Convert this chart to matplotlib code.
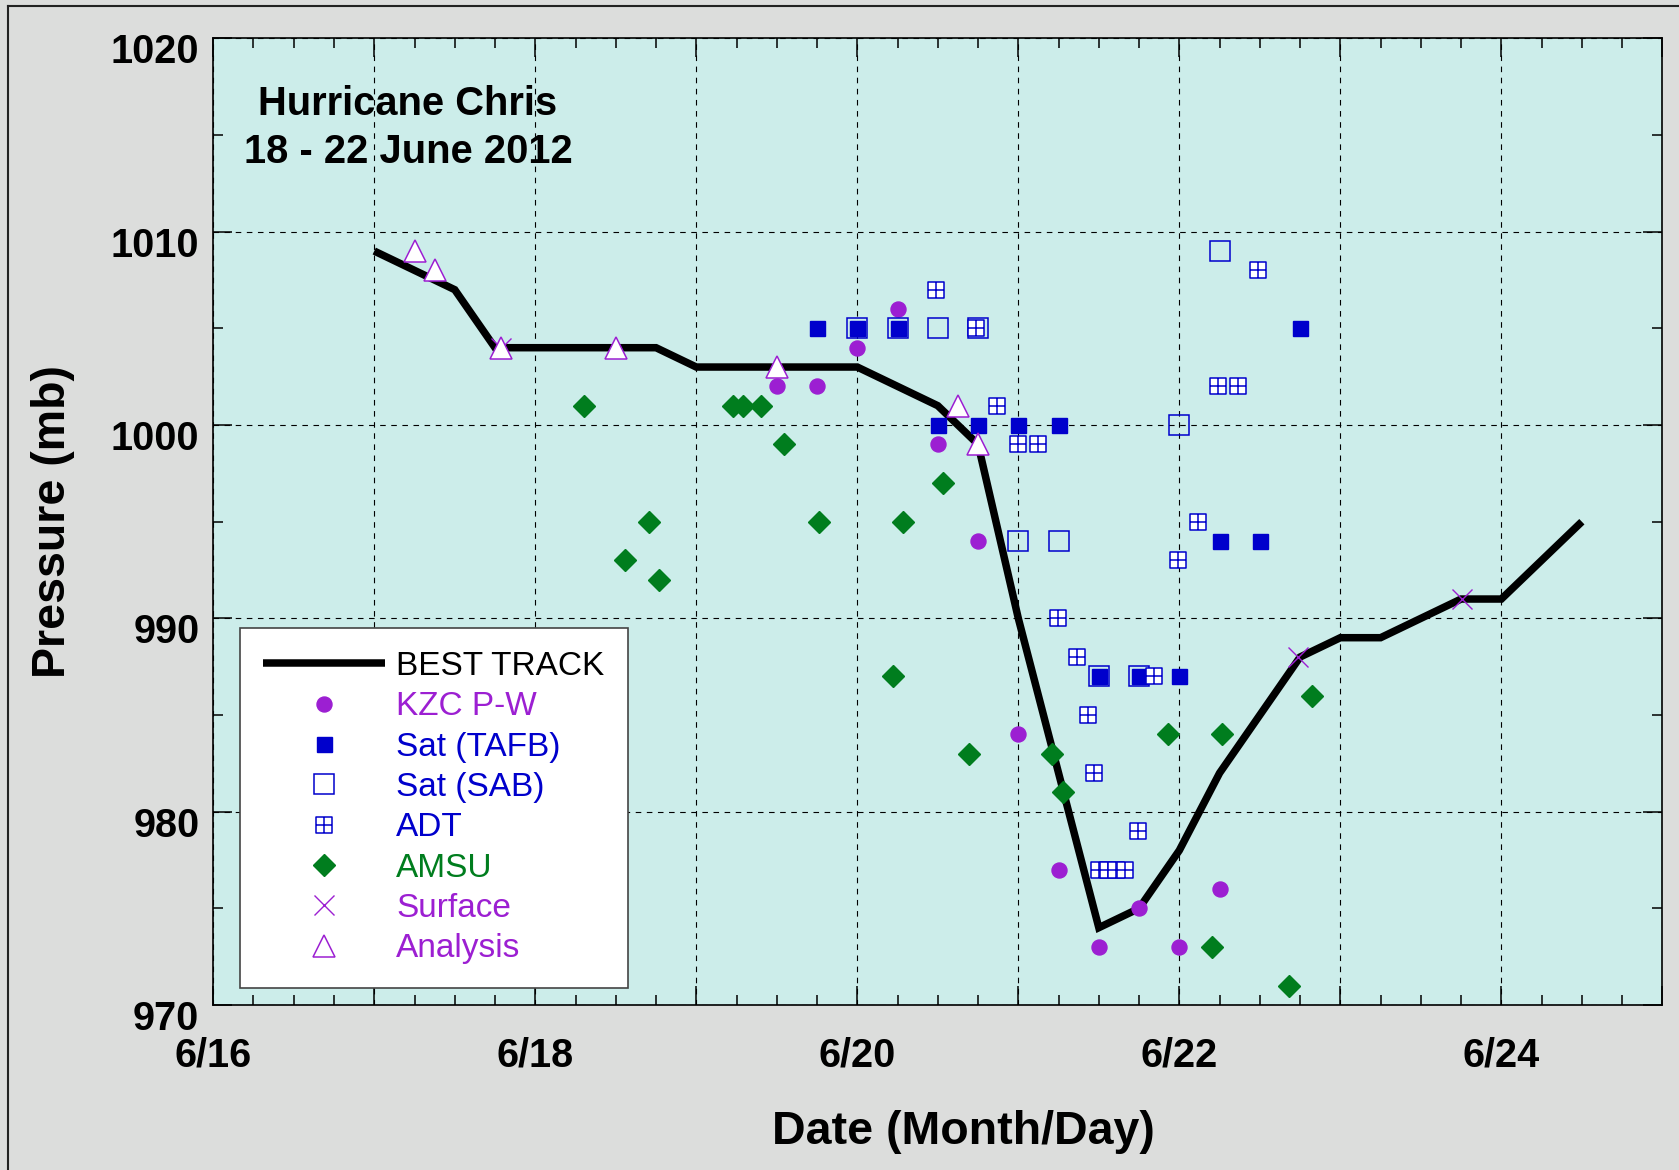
import numpy as np
import matplotlib.pyplot as plt
from matplotlib.path import Path
from matplotlib.lines import Line2D
from matplotlib.ticker import MultipleLocator, FuncFormatter
import matplotlib.transforms as mtransforms

plt.rcParams['font.family'] = ['Liberation Sans', 'DejaVu Sans']

# time in days of June 2012, pressure in mb
bt_day = [17.0, 17.25, 17.5, 17.75, 18.0, 18.25, 18.5, 18.75, 19.0, 19.25, 19.5,
          19.75, 20.0, 20.25, 20.5, 20.75, 21.0, 21.25, 21.5, 21.75, 22.0, 22.25,
          22.5, 22.75, 23.0, 23.25, 23.5, 23.75, 24.0, 24.25, 24.5]
bt_pres = [1009, 1008, 1007, 1004, 1004, 1004, 1004, 1004, 1003, 1003, 1003,
           1003, 1003, 1002, 1001, 999, 990, 982, 974, 975, 978, 982,
           985, 988, 989, 989, 990, 991, 991, 993, 995]

kzc_day = [19.5, 19.75, 20.0, 20.25, 20.5, 20.75, 21.0, 21.25, 21.5, 21.75, 22.0, 22.25]
kzc_pres = [1002, 1002, 1004, 1006, 999, 994, 984, 977, 973, 975, 973, 976]

tafb_day = [19.75, 20.0, 20.25, 20.5, 20.75, 21.0, 21.25, 21.5, 21.75, 22.0, 22.25, 22.5, 22.75]
tafb_pres = [1005, 1005, 1005, 1000, 1000, 1000, 1000, 987, 987, 987, 994, 994, 1005]

sab_day = [20.0, 20.25, 20.5, 20.75, 21.0, 21.25, 21.5, 21.75, 22.0, 22.25]
sab_pres = [1005, 1005, 1005, 1005, 994, 994, 987, 987, 1000, 1009]

adt_day = [20.49, 20.74, 20.866, 20.995, 21.12, 21.245, 21.364, 21.43, 21.473, 21.503,
           21.556, 21.609, 21.662, 21.746, 21.845, 21.994, 22.118, 22.24, 22.367, 22.49]
adt_pres = [1007, 1005, 1001, 999, 999, 990, 988, 985, 982, 977,
            977, 977, 977, 979, 987, 993, 995, 1002, 1002, 1008]

amsu_day = [18.30, 18.555, 18.707, 18.771, 19.227, 19.291, 19.401, 19.544, 19.763, 20.222,
            20.282, 20.532, 20.696, 21.21, 21.276, 21.932, 22.2, 22.265, 22.68, 22.822]
amsu_pres = [1001, 993, 995, 992, 1001, 1001, 1001, 999, 995, 987,
             995, 997, 983, 983, 981, 984, 973, 984, 971, 986]

sfc_day = [17.79, 22.74, 23.755]
sfc_pres = [1004, 988, 991]

ana_day = [17.254, 17.378, 17.79, 18.5, 19.5, 20.628, 20.75]
ana_pres = [1009, 1008, 1004, 1004, 1003, 1001, 999]

purple = '#9c1fd2'
blue = '#0000cc'
green = '#007d1e'

# square with a cross inside for ADT
adt_marker = Path([(-0.5, -0.5), (0.5, -0.5), (0.5, 0.5), (-0.5, 0.5), (-0.5, -0.5),
                   (0, -0.5), (0, 0.5), (-0.5, 0), (0.5, 0)],
                  [Path.MOVETO, Path.LINETO, Path.LINETO, Path.LINETO, Path.CLOSEPOLY,
                   Path.MOVETO, Path.LINETO, Path.MOVETO, Path.LINETO])

fig = plt.figure(figsize=(16.79, 11.70), dpi=100, facecolor='#dcdddc')
ax = fig.add_axes([0.1270, 0.1410, 0.8631, 0.8262])
ax.set_facecolor('#ccedea')

ax.plot(bt_day, bt_pres, color='black', lw=5.4, solid_capstyle='butt',
        solid_joinstyle='miter', label='BEST TRACK', zorder=3)
ax.plot(kzc_day, kzc_pres, ls='none', marker='o', ms=10.8, mfc=purple, mec=purple,
        label='KZC P-W', zorder=4)
ax.plot(tafb_day, tafb_pres, ls='none', marker='s', ms=10.8, mfc=blue, mec=blue,
        label='Sat (TAFB)', zorder=4)
ax.plot(sab_day, sab_pres, ls='none', marker='s', ms=14.8, mfc='none', mec=blue,
        mew=1.1, label='Sat (SAB)', zorder=4)
ax.plot(adt_day, adt_pres, ls='none', marker=adt_marker, ms=11, mfc='white', mec=blue,
        mew=1.1, label='ADT', zorder=4)
ax.plot(amsu_day, amsu_pres, ls='none', marker='D', ms=11, mfc=green, mec=green,
        label='AMSU', zorder=4)
ax.plot(sfc_day, sfc_pres, ls='none', marker='x', ms=15, mec=purple, mew=1.0,
        label='Surface', zorder=4)
ax.plot(ana_day, ana_pres, ls='none', marker='^', ms=15.5, mfc='white', mec=purple,
        mew=1.1, label='Analysis', zorder=4)

ax.set_xlim(16, 25)
ax.set_ylim(970, 1020)
ax.xaxis.set_major_locator(MultipleLocator(1))
ax.xaxis.set_minor_locator(MultipleLocator(0.25))
ax.xaxis.set_major_formatter(FuncFormatter(
    lambda v, p: '6/%d' % int(round(v)) if int(round(v)) % 2 == 0 else ''))
ax.yaxis.set_major_locator(MultipleLocator(10))
ax.yaxis.set_minor_locator(MultipleLocator(5))

ax.grid(True, which='major', color='black', lw=0.8, ls=(0, (5, 5)))
ax.tick_params(which='both', direction='in', top=True, right=True, width=1.1,
               colors='black')
ax.tick_params(which='major', length=14)
ax.tick_params(which='minor', length=7.5)
ax.tick_params(axis='x', which='major', pad=23, labelsize=28.5)
ax.tick_params(axis='y', which='major', pad=10, labelsize=28.5)
for lab in ax.get_xticklabels() + ax.get_yticklabels():
    lab.set_fontweight('bold')
offset = mtransforms.ScaledTranslation(0, -0.10, fig.dpi_scale_trans)
for lab in ax.get_yticklabels():
    lab.set_transform(lab.get_transform() + offset)

for s in ax.spines.values():
    s.set_linewidth(1.2)

ax.set_xlabel('Date (Month/Day)', fontsize=33.5, fontweight='bold')
ax.set_ylabel('Pressure (mb)', fontsize=33.5, fontweight='bold')
ax.xaxis.set_label_coords(0.5178, -0.1086)
ax.yaxis.set_label_coords(-0.0954, 0.5)

ax.text(0.1344, 0.9207, 'Hurricane Chris', transform=ax.transAxes, ha='center',
        va='baseline', fontsize=28.7, fontweight='bold')
ax.text(0.1344, 0.8714, '18 - 22 June 2012', transform=ax.transAxes, ha='center',
        va='baseline', fontsize=28.7, fontweight='bold')

leg = ax.legend(loc='upper left', bbox_to_anchor=(0.0184, 0.3903), borderaxespad=0,
                fontsize=24, frameon=True, fancybox=False, framealpha=1,
                edgecolor='#444444', handlelength=3.66, handletextpad=0.33,
                borderpad=0.7, labelspacing=0.28, numpoints=1)
leg.get_frame().set_linewidth(1.2)
leg.set_zorder(10)
text_colors = ['black', purple, blue, blue, blue, green, purple, purple]
for t, c in zip(leg.get_texts(), text_colors):
    t.set_color(c)

# figure frame on the left and top edges
fig.add_artist(Line2D([8 / 1679, 8 / 1679], [0, 1 - 6 / 1170], color='#222222', lw=1.5))
fig.add_artist(Line2D([8 / 1679, 1], [1 - 6 / 1170, 1 - 6 / 1170], color='#222222', lw=1.5))

fig.savefig('out.png', dpi=100, facecolor=fig.get_facecolor())
